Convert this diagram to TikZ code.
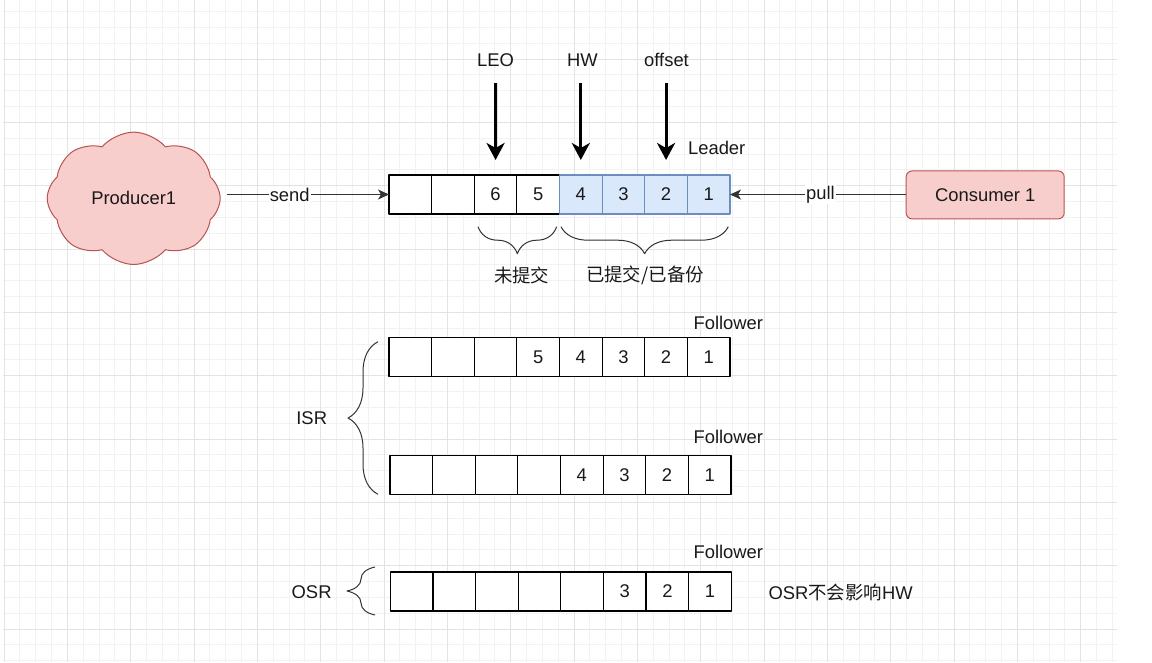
\documentclass[tikz,border=0pt]{standalone}
\usepackage{fontspec}
\setmainfont{Liberation Sans}
\newfontfamily\cjk{Noto Sans CJK SC}
\usepackage{xcolor}
\usepackage{tikz}
\usetikzlibrary{arrows.meta,calc,shapes.symbols,decorations.pathreplacing}

\definecolor{redfill}{HTML}{F8CECC}
\definecolor{redline}{HTML}{B85450}
\definecolor{bluefill}{HTML}{DAE8FC}
\definecolor{blueline}{HTML}{6C8EBF}

\begin{document}
\begin{tikzpicture}[x=1pt,y=-1pt,>=Stealth,line join=round,
  font=\fontsize{18.4}{22}\selectfont,text=black!90,
  cell/.style={draw=black,line width=1.2pt,fill=white,minimum width=42.625pt,minimum height=39pt,inner sep=0pt,outer sep=0pt},
  bluecell/.style={cell,draw=blueline,fill=bluefill},
  flow/.style={line width=1pt,draw=black!80,-{Stealth[length=11pt,width=10pt,inset=3pt]}},
  pointer/.style={line width=3pt,-{Stealth[length=17pt,width=18pt,inset=5pt]}},
  curly/.style={decorate,decoration={brace,amplitude=#1},line width=1pt,draw=black!80},
  minorgrid/.style={draw=black!5,line width=0.8pt},
  majorgrid/.style={draw=black!11,line width=1pt}]
  \useasboundingbox (0,0) rectangle (1152,662);
  % background grid
  \foreach \k in {0,...,70} \draw[minorgrid] ({4+15.833*\k},0) -- ({4+15.833*\k},662);
  \foreach \k in {0,...,41} \draw[minorgrid] (3,{11.5+15.833*\k}) -- (1117,{11.5+15.833*\k});
  \foreach \k in {0,...,17} \draw[majorgrid] ({4+63.333*\k},0) -- ({4+63.333*\k},662);
  \foreach \k in {0,...,9} \draw[majorgrid] (3,{59+63.333*\k}) -- (1117,{59+63.333*\k});

  % leader log
  \foreach \i/\t in {1/{},2/{},3/6,4/5} \node[cell] (L\i) at ({389+42.625*(\i-0.5)},194.5) {\t};
  \foreach \i/\t in {5/4,6/3,7/2,8/1} \node[bluecell] (L\i) at ({389+42.625*(\i-0.5)},194.5) {\t};
  \node (leader) at (716.7,148) {Leader};
  \node (leo) at (495.6,60) {LEO};
  \node (hw) at (582.5,60) {HW};
  \node (offset) at (666.5,60) {offset};
  \draw[pointer,shorten <=13pt,shorten >=15pt] (leo) -- (L3);
  \draw[pointer,shorten <=13pt,shorten >=15pt] (hw.south -| L5) -- (L5);
  \draw[pointer,shorten <=13pt,shorten >=15pt] (offset.south -| L7) -- (L7);
  \draw[curly=27pt] (556.7,226.7) -- (478,226.7);
  \draw[curly=27pt] (728.3,226.7) -- (561,226.7);
  \node[font=\fontsize{18.4}{22}\cjk] (uncommitted) at (521.7,275) {未提交};
  \node[font=\fontsize{18.4}{22}\cjk] (committed) at (645,275) {已提交/已备份};

  % producer and consumer
  \node[cloud,cloud puffs=8,cloud puff arc=100,draw=redline,fill=redfill,line width=1pt,minimum width=173pt,minimum height=107pt,inner sep=0pt] (producer) at (133.7,198.3) {Producer1};
  \node[draw=redline,fill=redfill,rounded corners=6pt,line width=1pt,minimum width=158pt,minimum height=48pt] (consumer) at (985.2,194.9) {Consumer 1};
  \draw[flow,shorten <=6pt] (producer.east |- L1.west) -- node[pos=0.41,fill=white,inner sep=1pt] (send) {send} (L1.west);
  \draw[flow] (consumer.west |- L8.east) -- node[pos=0.485,fill=white,inner sep=1pt] (pull) {pull} (L8.east);

  % ISR followers
  \foreach \i/\t in {1/{},2/{},3/{},4/5,5/4,6/3,7/2,8/1} \node[cell] (A\i) at ({389+42.625*(\i-0.5)},357) {\t};
  \foreach \i/\t in {1/{},2/{},3/{},4/{},5/4,6/3,7/2,8/1} \node[cell] (B\i) at ({390+42.625*(\i-0.5)},475.3) {\t};
  \node (followerA) at (728.3,323.3) {Follower};
  \node (followerB) at (728.3,436.7) {Follower};
  \draw[curly=30pt] (378,494.3) -- (378,341.7);
  \node (isr) at (311.7,418.3) {ISR};

  % OSR follower
  \foreach \i/\t in {1/{},2/{},3/{},4/{},5/{},6/3,7/2,8/1} \node[cell] (O\i) at ({390.3+42.625*(\i-0.5)},591.5) {\t};
  \node (followerO) at (728.3,552) {Follower};
  \draw[curly=28pt] (375,615) -- (375,567);
  \node (osr) at (311.6,592) {OSR};
  \node[anchor=west] (osrnote) at (765,592) {OSR{\cjk 不会影响}HW};
\end{tikzpicture}
\end{document}
